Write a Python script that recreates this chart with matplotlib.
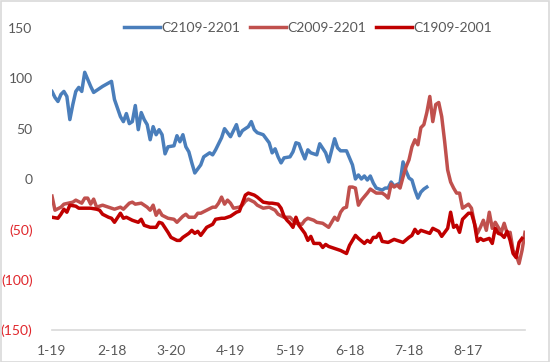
import matplotlib
matplotlib.use("Agg")
import matplotlib.pyplot as plt
from matplotlib.patches import Rectangle
from matplotlib.ticker import FixedLocator, FuncFormatter

plt.rcParams['font.family'] = ['Lato', 'DejaVu Sans']

# Trading-day index (0 = 1-19) and values
tick_days = [0, 20, 40, 60, 80, 100, 120, 140]
tick_labels = ["1-19", "2-18", "3-20", "4-19", "5-19", "6-18", "7-18", "8-17"]

c2109_days = [0, 1, 2, 3, 4, 5, 6, 7, 8, 9, 10, 11, 13, 14, 17, 20, 21, 23, 24, 25, 26, 27, 28, 29, 30,
              31, 32, 33, 34, 35, 36, 37, 38, 39, 41, 42, 43, 44, 45, 46, 47, 48, 50, 51, 53, 54, 55,
              57, 58, 59, 60, 62, 63, 64, 66, 67, 68, 69, 71, 73, 74, 75, 76, 77, 78, 80, 81, 82, 83,
              84, 85, 86, 87, 89, 90, 92, 93, 95, 96, 97, 99, 101, 102, 103, 104, 105, 106, 107, 108,
              109, 111, 112, 113, 114, 115, 117, 118, 119, 120, 121, 122, 123, 124, 125, 126]
c2109_vals = [87, 81, 77, 84, 87, 82, 59, 74, 87, 91, 87, 106, 92, 86, 92, 97, 79, 62, 57, 65, 55, 57, 73, 49, 66,
              59, 54, 39, 52, 44, 49, 44, 25, 32, 33, 43, 37, 44, 32, 27, 16, 6, 14, 22, 26, 24, 29,
              41, 50, 46, 42, 54, 43, 48, 52, 57, 49, 46, 44, 36, 26, 30, 22, 16, 21, 22, 27, 36, 35,
              27, 20, 29, 26, 24, 35, 26, 17, 40, 31, 28, 28, 14, 0, 4, 0, 3, -1, 3, -4,
              -9, -11, -9, -9, -3, -7, -4, 17, 8, 1, -1, -11, -19, -13, -10, -8]

c2009_days = [0, 1, 3, 4, 7, 8, 10, 11, 12, 13, 14, 15, 17, 18, 20, 21, 23, 24, 26, 27, 28, 30, 32, 33, 34,
              35, 36, 37, 39, 41, 42, 44, 45, 46, 48, 49, 50, 52, 54, 55, 56, 57, 58, 59, 60, 61, 63,
              64, 65, 66, 68, 69, 71, 73, 75, 76, 78, 80, 81, 82, 84, 85, 86, 88, 89, 91, 92, 93, 94,
              95, 96, 97, 98, 99, 100, 101, 102, 103, 104, 106, 107, 109, 110, 111, 112, 113, 114, 115,
              116, 117, 118, 119, 120, 121, 122, 123, 124, 125, 126, 127, 128, 129, 130, 131, 132, 133,
              134, 135, 136, 137, 138, 139, 140, 141, 142, 143, 144, 145, 146, 147, 148, 149, 150, 151,
              152, 153, 154, 155, 156, 157, 158, 159]
c2009_vals = [-17, -31, -28, -25, -23, -21, -24, -19, -19, -25, -20, -28, -26, -27, -29, -30, -28, -30, -24, -23, -25, -24, -28, -31, -26,
              -36, -31, -36, -39, -40, -43, -37, -35, -38, -38, -34, -34, -31, -28, -28, -24, -18, -25, -21, -24, -29, -28,
              -26, -22, -20, -23, -26, -29, -28, -31, -35, -38, -38, -41, -44, -45, -41, -39, -41, -43, -44, -46, -48, -43,
              -38, -41, -33, -29, -28, -8, -8, -9, -26, -21, -14, -10, -14, -14, -14, -16, -19, -5, -8,
              -6, -9, 2, 12, 19, 32, 39, 34, 51, 54, 66, 82, 57, 74, 76, 62, 37, 9,
              -3, -9, -14, -14, -29, -27, -25, -29, -44, -54, -48, -41, -51, -33, -49, -43, -48, -53,
              -44, -54, -53, -71, -75, -84, -71, -53]

c1909_days = [0, 2, 3, 4, 5, 6, 8, 9, 11, 13, 15, 16, 17, 19, 20, 21, 23, 24, 25, 27, 28, 29, 30, 31, 33,
              35, 36, 37, 39, 40, 42, 43, 44, 46, 47, 48, 49, 50, 51, 52, 54, 55, 57, 58, 60, 62, 63,
              64, 65, 66, 68, 69, 71, 73, 74, 76, 77, 78, 79, 80, 81, 82, 83, 85, 86, 87, 88, 90, 91,
              92, 93, 95, 97, 99, 100, 102, 103, 105, 106, 107, 108, 109, 110, 111, 113, 115, 117, 118,
              120, 121, 122, 123, 124, 126, 127, 128, 130, 131, 133, 134, 135, 136, 137, 138, 140, 141,
              142, 143, 144, 145, 147, 148, 149, 150, 151, 152, 153, 154, 155, 156, 157, 158]
c1909_vals = [-38, -39, -35, -30, -33, -26, -27, -29, -29, -29, -30, -31, -35, -38, -39, -43, -34, -39, -38, -41, -42, -43, -40, -46, -48,
              -48, -43, -44, -53, -58, -61, -61, -58, -54, -51, -54, -52, -56, -52, -48, -45, -40, -39, -39, -37, -33, -32,
              -24, -16, -14, -16, -18, -23, -24, -24, -25, -29, -37, -41, -44, -48, -38, -46, -54, -61, -57, -64, -64, -68,
              -65, -67, -69, -71, -74, -66, -56, -59, -64, -61, -63, -58, -58, -54, -62, -63, -60, -62, -63,
              -58, -56, -50, -54, -51, -53, -54, -49, -52, -57, -49, -33, -48, -46, -53, -40, -34, -34,
              -44, -62, -59, -61, -59, -64, -49, -54, -55, -58, -52, -61, -74, -78, -63, -59]

BLUE = "#4A7EBB"
LRED = "#C0504D"
DRED = "#C00000"

fig = plt.figure(figsize=(5.5, 3.62), dpi=100)
fig.patch.set_facecolor("white")
fig.add_artist(Rectangle((0.001, 0.001), 0.997, 0.996, transform=fig.transFigure,
                         fill=False, edgecolor="#D9D9D9", lw=1.2))

ax = fig.add_axes([52/550, 1-330/362, (525-52)/550, (330-28)/362])
l1, = ax.plot(c2109_days, c2109_vals, color=BLUE, lw=2.5, solid_joinstyle="round", label="C2109-2201")
l2, = ax.plot(c2009_days, c2009_vals, color=LRED, lw=2.5, solid_joinstyle="round", label="C2009-2201")
l3, = ax.plot(c1909_days, c1909_vals, color=DRED, lw=2.5, solid_joinstyle="round", label="C1909-2001")

ax.set_xlim(0, 159)
ax.set_ylim(-150, 150)
ax.xaxis.set_major_locator(FixedLocator(tick_days))
ax.set_xticklabels(tick_labels)
ax.yaxis.set_major_locator(FixedLocator([-150, -100, -50, 0, 50, 100, 150]))
ax.yaxis.set_major_formatter(FuncFormatter(lambda v, p: f"({abs(int(v))})" if v < 0 else f"{int(v)}"))

for s in ["top", "right", "left"]:
    ax.spines[s].set_visible(False)
ax.spines["bottom"].set_position(("data", -150))
ax.spines["bottom"].set_color("#D9D9D9")
ax.spines["bottom"].set_linewidth(1.2)
ax.tick_params(axis="both", length=0, labelsize=10)
ax.tick_params(axis="x", pad=11, labelcolor="#595959")
ax.tick_params(axis="y", pad=14)
for lab, v in zip(ax.get_yticklabels(), [-150, -100, -50, 0, 50, 100, 150]):
    lab.set_color("#E0262B" if v < 0 else "#595959")

fig.legend(handles=[l1, l2, l3], loc="center", bbox_to_anchor=(308/550, 1-28/362), ncol=3,
           frameon=False, fontsize=10, handlelength=2.6, handletextpad=0.1, columnspacing=0.7,
           labelcolor="#595959")

fig.savefig("out.png", dpi=100, facecolor="white")
